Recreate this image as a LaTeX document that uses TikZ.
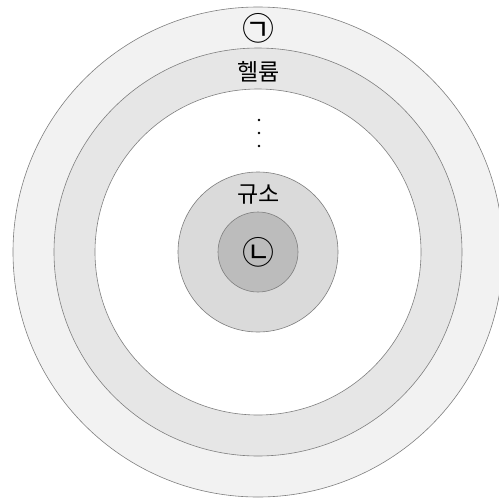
\documentclass[tikz,border=0pt]{standalone}
\usepackage{fontspec}
\newfontfamily\kofont{Noto Sans CJK KR}
\usepackage{tikz}
\usetikzlibrary{positioning}

\definecolor{ringA}{HTML}{F2F2F2}
\definecolor{ringB}{HTML}{E6E6E6}
\definecolor{ringD}{HTML}{DADADA}
\definecolor{ringE}{HTML}{BCBCBC}
\definecolor{rimgray}{HTML}{7F7F7F}

\begin{document}
\begin{tikzpicture}[x=1pt, y=-1pt,
  ring/.style={draw=rimgray, line width=0.6pt},
  label/.style={font=\kofont\fontsize{23}{25}\selectfont, inner sep=0pt, text=black},
  circledlabel/.style={font=\kofont\fontsize{32}{34}\selectfont, inner sep=0pt, text=black}]
  \useasboundingbox (0,0) rectangle (499,499);
  \coordinate (ctr) at (258,252);
  % shells, outside in
  \draw[ring, fill=ringA] (ctr) circle[radius=245];
  \draw[ring, fill=ringB] (ctr) circle[radius=204];
  \draw[ring, fill=white] (ctr) circle[radius=163];
  \draw[ring, fill=ringD] (ctr) circle[radius=80];
  \draw[ring, fill=ringE] (ctr) circle[radius=40];
  % labels
  \node[circledlabel] (outer) at (258.5,28.5) {㉠};
  \node[label] (helium) at (258.5,72) {헬륨};
  \node[label] (silicon) at (258.5,195) {규소};
  \node[circledlabel] (inner) at (258.5,252) {㉡};
  % dots between the shells
  \foreach \y in {120,133,146}
    \fill (259,\y) circle[radius=1.3];
\end{tikzpicture}
\end{document}
